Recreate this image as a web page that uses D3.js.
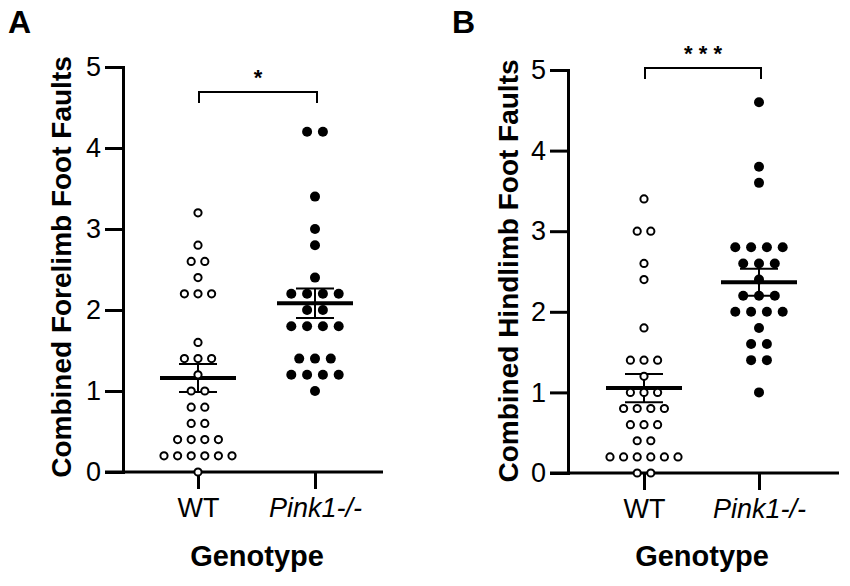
<!DOCTYPE html>
<html>
<head>
<meta charset="UTF-8">
<title>Foot Faults</title>
<script src="https://cdn.jsdelivr.net/npm/d3@7"></script>
<style>
    body { margin: 0; background: #fff; }
    svg text { font-family: "Liberation Sans", Arial, sans-serif; fill: #000; }
    .axis text { font-size: 27px; }
    .axis path, .axis line { stroke: #000; stroke-width: 3; }
    .title { font-size: 28px; font-weight: bold; }
    .xtitle { font-size: 29px; font-weight: bold; }
    .letter { font-size: 32px; font-weight: bold; }
    .sig { font-size: 22px; font-weight: bold; }
</style>
</head>
<body>
<svg id="svg"></svg>
<script>
var WIDTH = 850;
var HEIGHT = 586;

// Categories and ticks
var groups = ["WT", "Pink1-/-"];
var yTicks = [0, 1, 2, 3, 4, 5];

// Panel A: forelimb foot faults
var foreWT = [3.2, 2.8, 2.6, 2.6, 2.4, 2.2, 2.2, 2.2, 1.6, 1.4, 1.4, 1.4, 1.2,
              1.0, 1.0, 0.8, 0.8, 0.6, 0.6, 0.4, 0.4, 0.4, 0.4,
              0.2, 0.2, 0.2, 0.2, 0.2, 0.2, 0];
var forePink = [4.2, 4.2, 3.4, 3.0, 2.8, 2.4, 2.2, 2.2, 2.2, 2.2, 2.0, 2.0,
                1.8, 1.8, 1.8, 1.8, 1.4, 1.4, 1.4, 1.2, 1.2, 1.2, 1.2, 1.0];

// Panel B: hindlimb foot faults
var hindWT = [3.4, 3.0, 3.0, 2.6, 2.4, 1.8, 1.4, 1.4, 1.4, 1.2, 1.0, 1.0, 1.0,
              0.8, 0.8, 0.8, 0.8, 0.6, 0.6, 0.6, 0.4, 0.4,
              0.2, 0.2, 0.2, 0.2, 0.2, 0.2, 0, 0];
var hindPink = [4.6, 3.8, 3.6, 2.8, 2.8, 2.8, 2.8, 2.6, 2.6, 2.6, 2.4,
                2.2, 2.2, 2.2, 2.0, 2.0, 2.0, 2.0, 1.8, 1.6, 1.6, 1.4, 1.4, 1.0];

var panelLetters = ["A", "B"];
var yTitles = ["Combined Forelimb Foot Faults", "Combined Hindlimb Foot Faults"];
var sigLabels = ["*", "* * *"];

// Layout of each panel
var layouts = [
    { axisX: 123, xStart: 105, xEnd: 383, y0: 472, y5: 67, gx: [198, 315],
      letterX: 8, titleX: 71, titleY: 267, genoX: 257,
      bracketY: 92, sigY: 85 },
    { axisX: 568, xStart: 550, xEnd: 839, y0: 473, y5: 70, gx: [644, 759],
      letterX: 452, titleX: 518, titleY: 271, genoX: 702,
      bracketY: 68, sigY: 61 }
];
var datasets = [[foreWT, forePink], [hindWT, hindPink]];

var svg = d3.select('#svg')
            .attr('width', WIDTH)
            .attr('height', HEIGHT);

function drawPanel(p) {
    var L = layouts[p];
    var data = datasets[p];
    var g = svg.append('g');

    var yScale = d3.scaleLinear().domain([0, 5]).range([L.y0, L.y5]);
    var xScale = d3.scalePoint().domain(groups).range(L.gx);

    // panel letter
    g.append('text').attr('class', 'letter')
     .attr('x', L.letterX).attr('y', 33).text(panelLetters[p]);

    // y axis
    var yAxis = d3.axisLeft(yScale).tickValues(yTicks)
                  .tickSize(L.axisX - L.xStart).tickSizeOuter(0).tickPadding(4)
                  .tickFormat(d3.format('d'));
    g.append('g').attr('class', 'axis')
     .attr('transform', 'translate(' + L.axisX + ',0)')
     .call(yAxis)
     .call(function(a){ a.select('.domain').attr('stroke-linecap', 'square'); });

    // x axis
    var xAxis = d3.axisBottom(xScale).tickSize(17).tickPadding(9);
    var xa = g.append('g').attr('class', 'axis')
     .attr('transform', 'translate(0,' + yScale(0) + ')')
     .call(xAxis);
    xa.select('.domain').remove();
    xa.append('line').attr('x1', L.xStart).attr('x2', L.xEnd)
      .attr('y1', 0).attr('y2', 0);
    xa.selectAll('.tick text')
      .style('font-style', function(d){ return d === groups[1] ? 'italic' : 'normal'; });

    // axis titles
    g.append('text').attr('class', 'title')
     .attr('text-anchor', 'middle')
     .attr('transform', 'translate(' + L.titleX + ',' + L.titleY + ') rotate(-90)')
     .text(yTitles[p]);
    g.append('text').attr('class', 'xtitle')
     .attr('text-anchor', 'middle')
     .attr('x', L.genoX).attr('y', 566).text('Genotype');

    // significance bracket
    var bx1 = xScale(groups[0]) + 1, bx2 = xScale(groups[1]) + 2;
    g.append('path')
     .attr('d', 'M' + bx1 + ',' + (L.bracketY + 11) + 'V' + L.bracketY +
                'H' + bx2 + 'V' + (L.bracketY + 11))
     .attr('fill', 'none').attr('stroke', '#000').attr('stroke-width', 2);
    g.append('text').attr('class', 'sig').attr('text-anchor', 'middle')
     .attr('x', (bx1 + bx2) / 2).attr('y', L.sigY).text(sigLabels[p]);

    // error bars (mean +/- SEM)
    data.forEach(function(vals, gi) {
        var cx = xScale(groups[gi]);
        var m = d3.mean(vals);
        var sem = d3.deviation(vals) / Math.sqrt(vals.length);
        var eb = g.append('g').attr('stroke', '#000');
        eb.append('line').attr('x1', cx).attr('x2', cx)
          .attr('y1', yScale(m - sem)).attr('y2', yScale(m + sem))
          .attr('stroke-width', 2);
        [m - sem, m + sem].forEach(function(v) {
            eb.append('line').attr('x1', cx - 19).attr('x2', cx + 19)
              .attr('y1', yScale(v)).attr('y2', yScale(v))
              .attr('stroke-width', 2);
        });
        eb.append('line').attr('x1', cx - 38).attr('x2', cx + 38)
          .attr('y1', yScale(m)).attr('y2', yScale(m))
          .attr('stroke-width', 4);
    });

    // scatter points, stacked side by side where values repeat
    data.forEach(function(vals, gi) {
        var cx = xScale(groups[gi]);
        var filled = gi === 1;
        var step = filled ? 15.8 : 13.6;
        var pts = [];
        d3.group(vals, function(v){ return v; }).forEach(function(arr, v) {
            arr.forEach(function(d, i) {
                pts.push({ v: v, off: (i - (arr.length - 1) / 2) * step });
            });
        });
        g.selectAll(null)
         .data(pts)
         .enter()
         .append('circle')
         .attr('cx', function(d){ return cx + d.off; })
         .attr('cy', function(d){ return yScale(d.v); })
         .attr('r', filled ? 5 : 3.6)
         .attr('fill', filled ? '#000' : '#fff')
         .attr('stroke', '#000')
         .attr('stroke-width', filled ? 0 : 2);
    });
}

drawPanel(0);
drawPanel(1);
</script>
</body>
</html>
